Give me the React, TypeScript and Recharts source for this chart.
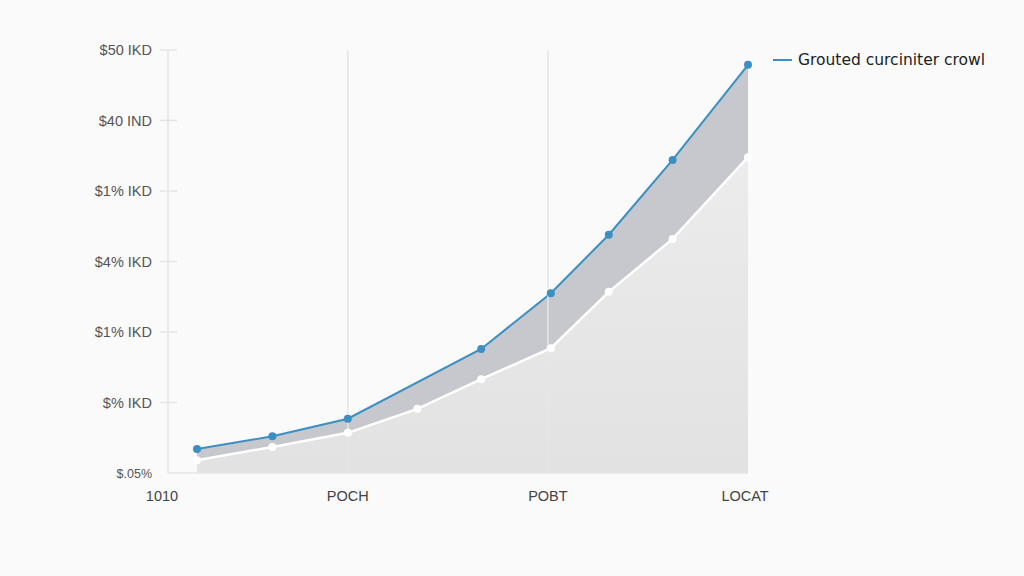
import React from 'react';
import {
  ComposedChart, Area, XAxis, YAxis, ReferenceLine,
} from 'recharts';

// horizontal position of each sample (0 = y axis, 100 = right end)
const positions = [5, 18, 31, 43, 54, 66, 76, 87, 100];
// upper (blue) series, null where no marker is drawn
const upperValues = [3.4, 5.2, 7.7, null, 17.6, 25.5, 33.8, 44.4, 57.9];
// lower (white) series
const lowerValues = [1.8, 3.7, 5.7, 9.1, 13.3, 17.7, 25.7, 33.2, 44.8];

const yTicks = [0, 10, 20, 30, 40, 50, 60];
const yLabels = ['$.05%', '$% IKD', '$1% IKD', '$4% IKD', '$1% IKD', '$40 IND', '$50 IKD'];

const xTicks = [0, 31, 65.5, 99.5];
const xLabels = ['1010', 'POCH', 'POBT', 'LOCAT'];

const legendLabel = 'Grouted curciniter crowl';

const data = positions.map((x, i) => ({ x, upper: upperValues[i], lower: lowerValues[i] }));

const BLUE = '#3b8fc2';
const FONT = "'Liberation Sans', Arial, sans-serif";

function YTick(props: any) {
  const { x, y, payload, index } = props;
  const isBase = payload.value === 0;
  return (
    <g>
      <text x={x - 8} y={y} dy={5} textAnchor="end" fontSize={isBase ? 12.5 : 14.5} fill="#555" fontFamily={FONT}>
        {yLabels[index] ?? payload.value}
      </text>
      {!isBase && <line x1={x} x2={x + 17} y1={y} y2={y} stroke="#e6e6e6" strokeWidth={1.5} />}
    </g>
  );
}

function XTick(props: any) {
  const { x, y, index } = props;
  const shift = index === 0 ? -6 : 0;
  return (
    <text x={x + shift} y={y} dy={20} textAnchor="middle" fontSize={14.5} fill="#444" fontFamily={FONT}>
      {xLabels[index]}
    </text>
  );
}

export default function App() {
  return (
    <div style={{ position: 'fixed', inset: 0, background: '#fafafa' }}>
      <ComposedChart
        width={1024}
        height={576}
        data={data}
        margin={{ top: 50, right: 276, left: 0, bottom: 73 }}
      >
        <defs>
          <linearGradient id="lowerFill" x1="0" y1="0" x2="0" y2="1">
            <stop offset="0%" stopColor="#ececec" />
            <stop offset="100%" stopColor="#e2e2e2" />
          </linearGradient>
        </defs>
        <XAxis
          dataKey="x"
          type="number"
          domain={[0, 100]}
          ticks={xTicks}
          tick={<XTick />}
          tickLine={false}
          axisLine={{ stroke: '#e4e4e4', strokeWidth: 1.5 }}
        />
        <YAxis
          type="number"
          domain={[0, 60]}
          ticks={yTicks}
          width={168}
          tick={<YTick />}
          tickLine={false}
          axisLine={{ stroke: '#e4e4e4', strokeWidth: 1.5 }}
        />
        <ReferenceLine x={31} stroke="#e6e6e6" strokeWidth={1.5} />
        <ReferenceLine x={65.5} stroke="#e6e6e6" strokeWidth={1.5} />
        <Area
          type="linear"
          dataKey="upper"
          connectNulls
          stroke={BLUE}
          strokeWidth={2}
          fill="#c6c8ce"
          fillOpacity={1}
          dot={{ r: 4, fill: BLUE, stroke: BLUE, strokeWidth: 0 }}
          isAnimationActive={false}
        />
        <Area
          type="linear"
          dataKey="lower"
          stroke="#ffffff"
          strokeWidth={2.5}
          fill="url(#lowerFill)"
          fillOpacity={1}
          dot={{ r: 4, fill: '#ffffff', stroke: '#ffffff', strokeWidth: 0 }}
          isAnimationActive={false}
        />
      </ComposedChart>
      <div
        style={{
          position: 'absolute', top: 51, left: 773, display: 'flex', alignItems: 'center',
          fontFamily: "'DejaVu Sans', sans-serif", fontSize: 15.5, color: '#222', whiteSpace: 'nowrap',
        }}
      >
        <span style={{ display: 'inline-block', width: 19, height: 2, background: BLUE, marginRight: 6 }} />
        {legendLabel}
      </div>
    </div>
  );
}
